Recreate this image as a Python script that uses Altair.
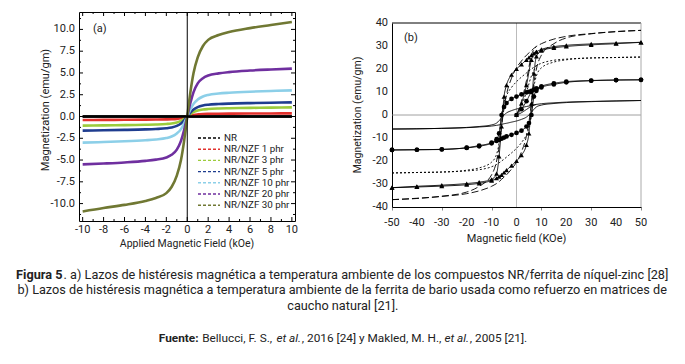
import altair as alt
import pandas as pd

FONT = "Roboto"
TXT = "#222222"

# ---------------- panel (a) data ----------------
a_field = [-10, -8, -6, -4, -3, -2, -1.5, -1, -0.6, -0.3, 0, 0.3, 0.6, 1, 1.5, 2, 3, 4, 6, 8, 10]
a_names = ["NR", "NR/NZF 1 phr", "NR/NZF 3 phr", "NR/NZF 5 phr",
           "NR/NZF 10 phr", "NR/NZF 20 phr", "NR/NZF 30 phr"]
a_colors = ["#000000", "#e2312d", "#9ccc3c", "#1f3d8f", "#8ccfe8", "#6f2f9f", "#707833"]
a_nr = [0, 0, 0, 0, 0, 0, 0, 0, 0, 0, 0, 0, 0, 0, 0, 0, 0, 0, 0, 0, 0]
a_1 = [-0.40, -0.39, -0.38, -0.36, -0.35, -0.33, -0.31, -0.27, -0.20, -0.11, 0,
       0.10, 0.18, 0.24, 0.28, 0.30, 0.32, 0.33, 0.34, 0.35, 0.36]
a_3 = [-1.05, -1.02, -0.99, -0.95, -0.92, -0.86, -0.80, -0.68, -0.50, -0.28, 0,
       0.28, 0.50, 0.68, 0.80, 0.86, 0.92, 0.95, 0.99, 1.02, 1.05]
a_5 = [-1.62, -1.58, -1.54, -1.48, -1.43, -1.35, -1.26, -1.08, -0.80, -0.45, 0,
       0.45, 0.80, 1.08, 1.26, 1.35, 1.43, 1.48, 1.54, 1.58, 1.62]
a_10 = [-3.00, -2.93, -2.85, -2.73, -2.64, -2.48, -2.30, -1.95, -1.45, -0.80, 0,
        0.80, 1.45, 1.95, 2.30, 2.48, 2.64, 2.73, 2.85, 2.93, 3.00]
a_20 = [-5.50, -5.40, -5.28, -5.10, -4.95, -4.70, -4.40, -3.80, -2.80, -1.55, 0,
        1.55, 2.80, 3.80, 4.40, 4.70, 4.95, 5.10, 5.28, 5.40, 5.50]
a_30 = [-10.90, -10.50, -10.15, -9.70, -9.35, -8.80, -8.10, -6.80, -5.00, -2.80, 0,
        2.80, 5.00, 6.80, 8.10, 8.80, 9.35, 9.70, 10.15, 10.50, 10.85]
a_values = [a_nr, a_1, a_3, a_5, a_10, a_20, a_30]

a_xt_major = [-10, -8, -6, -4, -2, 0, 2, 4, 6, 8, 10]
a_xt_labels = ["-10", "-8", "-6", "-4", "-2", "0", "2", "4", "6", "8", "10"]
a_xt_minor = [-9, -7, -5, -3, -1, 1, 3, 5, 7, 9]
a_yt_major = [-10, -7.5, -5, -2.5, 0, 2.5, 5, 7.5, 10]
a_yt_labels = ["-10.0", "-7.5", "-5.0", "-2.5", "0.0", "2.5", "5.0", "7.5", "10.0"]
a_yt_minor = [-11.25, -8.75, -6.25, -3.75, -1.25, 1.25, 3.75, 6.25, 8.75, 11.25]

# ---------------- panel (b) data ----------------
b_field = [-50, -40, -30, -20, -15, -10, -8, -7, -6, -5, -4, -2, 0, 2, 4, 5, 6, 7, 8, 10, 15, 20, 30, 40, 50]
b_names = ["10 phr", "30 phr", "60 phr", "90 phr", "120 phr"]
b_upper = {
    "10 phr": [-6.1, -6.0, -5.8, -5.4, -5.0, -4.3, -3.5, -2.5, -1.2, 0, 0.9, 1.9, 2.6, 3.2, 3.7, 3.9, 4.2, 4.4, 4.6, 4.9, 5.3, 5.6, 5.9, 6.1, 6.3],
    "30 phr": [-15.2, -15.1, -15.0, -14.2, -13.3, -12.0, -10.5, -8.0, 0, 3.5, 5.2, 7.0, 8.0, 9.0, 9.8, 10.1, 10.5, 11.0, 11.5, 12.5, 13.8, 14.5, 15.0, 15.2, 15.3],
    "60 phr": [-25.2, -25.0, -24.8, -24.0, -23.0, -20.5, -17.0, -12.0, 0, 5.5, 8.5, 12.0, 14.5, 16.5, 18.3, 19.2, 20.0, 20.8, 21.5, 22.5, 23.8, 24.3, 24.8, 25.0, 25.2],
    "90 phr": [-31.6, -31.0, -30.5, -29.8, -29.2, -28.0, -25.5, -18.0, -5.0, 8.0, 13.0, 17.5, 20.0, 22.0, 24.0, 25.0, 26.0, 26.8, 27.5, 28.5, 29.7, 30.3, 30.9, 31.3, 31.6],
    "120 phr": [-36.8, -36.3, -35.3, -33.5, -31.0, -26.0, -20.0, -14.0, -5.0, 3.0, 9.0, 16.0, 20.5, 23.5, 26.0, 27.0, 28.0, 29.0, 29.8, 31.0, 33.0, 34.2, 35.4, 36.2, 36.8],
}
b_lower = {
    "10 phr": [-6.1, -6.0, -5.8, -5.5, -5.2, -4.8, -4.5, -4.3, -4.1, -3.8, -3.6, -3.1, -2.6, -1.9, -0.9, 0, 1.2, 2.5, 3.5, 4.3, 5.0, 5.4, 5.8, 6.1, 6.3],
    "30 phr": [-15.2, -15.1, -14.9, -14.3, -13.6, -12.3, -11.3, -10.8, -10.3, -9.8, -9.3, -8.6, -7.8, -6.8, -5.0, -3.5, 0, 8.0, 10.5, 12.0, 13.3, 14.2, 14.9, 15.2, 15.3],
    "60 phr": [-25.2, -25.0, -24.8, -24.3, -23.8, -22.5, -21.5, -20.8, -20.0, -19.2, -18.3, -16.5, -14.5, -12.0, -8.5, -5.5, 0, 12.0, 17.0, 20.5, 23.0, 24.0, 24.8, 25.0, 25.2],
    "90 phr": [-31.6, -31.3, -30.9, -30.3, -29.7, -28.5, -27.5, -26.8, -26.0, -25.0, -24.0, -22.0, -20.0, -17.5, -13.0, -8.0, 5.0, 18.0, 25.5, 28.0, 29.2, 29.8, 30.5, 31.0, 31.6],
    "120 phr": [-36.8, -36.2, -35.4, -34.2, -33.0, -31.0, -29.8, -29.0, -28.0, -27.0, -26.0, -23.5, -20.5, -16.0, -9.0, -3.0, 5.0, 14.0, 20.0, 26.0, 31.0, 33.5, 35.3, 36.3, 36.8],
}
# initial (virgin) magnetisation curves starting at the origin
b_init_field = [0, 2, 4, 6, 8]
b_init = {
    "10 phr": [0, 1.0, 2.4, 3.8, 4.6],
    "30 phr": [0, 2.5, 6.0, 10.0, 11.5],
    "60 phr": [0, 4.0, 10.0, 17.0, 21.5],
    "90 phr": [0, 5.0, 13.0, 24.0, 27.5],
    "120 phr": [0, 6.0, 15.0, 26.0, 29.8],
}
b_dash = [[1, 0], [1, 0], [2, 2], [1, 0], [7, 3]]
b_xticks = [-50, -40, -30, -20, -10, 0, 10, 20, 30, 40, 50]
b_xt_labels = ["-50", "-40", "-30", "-20", "-10", "0", "10", "20", "30", "40", "50"]
b_yticks = [-40, -30, -20, -10, 0, 10, 20, 30, 40]
b_yt_labels = ["-40", "-30", "-20", "-10", "0", "10", "20", "30", "40"]
b_symbols = [
    "M-1,0H3.25",
    "M1.775,0A0.65,0.65,0,1,1,0.475,0A0.65,0.65,0,1,1,1.775,0Z",
    "M-0.875,0H-0.125M0.75,0H1.5M2.375,0H3.125",
    "M1.125,-0.8L1.875,0.55L0.375,0.55Z",
    "M-1,0H0.75M1.5,0H3.25",
]

# ---------------- caption ----------------
cap_line1 = [("Figura 5", "bold"),
             (". a) Lazos de histéresis magnética a temperatura ambiente de los compuestos NR/ferrita de níquel-zinc [28]", "normal")]
cap_line2 = [("b) Lazos de histéresis magnética a temperatura ambiente de la ferrita de bario usada como refuerzo en matrices de", "normal")]
cap_line3 = [("caucho natural [21].", "normal")]
cap_line4 = [("Fuente:", "bold"), (" Bellucci, F. S., ", "normal"), ("et al.", "italic"),
             (", 2016 [24] y Makled, M. H., ", "normal"), ("et al.", "italic"), (", 2005 [21].", "normal")]

# ---------------- geometry (page px) ----------------
A_X0, A_Y0 = 78, 11          # plot origin of panel (a)
W_A, H_A = 216, 209
B_X0 = 391
W_B = 249
B_TOP, B_BOT = 11, 195       # panel (b) plot rows inside its cell
PAD_L, PAD_T = 4, 3
CAP_CX = 342 - A_X0
CAP_Y = [274 - A_Y0, 289 - A_Y0, 305 - A_Y0, 337 - A_Y0]
CAP_SCALE = [1.0, 1.0, 1.0, 0.93]

hidden_axis = dict(labels=False, ticks=False, domain=False, grid=False, title="")

# ================= helpers =================
one = pd.DataFrame({"k": [0]})


def label(text, x, y, size=11, align="left", weight=None, style=None, opacity=None, angle=None):
    kw = dict(align=align, baseline="middle", font=FONT, fontSize=size, color=TXT)
    if weight:
        kw["fontWeight"] = weight
    if style:
        kw["fontStyle"] = style
    if opacity is not None:
        kw["opacity"] = opacity
    if angle is not None:
        kw["angle"] = angle
    return alt.Chart(pd.DataFrame({"t": [text]})).mark_text(**kw).encode(
        text="t:N", x=alt.value(x), y=alt.value(y))


def xlabels(vals, labs, y):
    d = pd.DataFrame({"H": vals, "lab": labs})
    return alt.Chart(d).mark_text(align="center", baseline="middle", font=FONT, fontSize=11,
                                  color=TXT).encode(x="H:Q", y=alt.value(y), text="lab:N")


def ylabels(vals, labs, x):
    d = pd.DataFrame({"M": vals, "lab": labs})
    return alt.Chart(d).mark_text(align="right", baseline="middle", font=FONT, fontSize=11,
                                  color=TXT).encode(y="M:Q", x=alt.value(x), text="lab:N")


# ================= panel (a) =================
df_a = pd.DataFrame([dict(H=h, M=m, sample=n)
                     for n, vals in zip(a_names, a_values)
                     for h, m in zip(a_field, vals)])

xa = alt.X("H:Q", scale=alt.Scale(domain=[-10.35, 10.3], nice=False, zero=False),
           axis=alt.Axis(**hidden_axis))
ya = alt.Y("M:Q", scale=alt.Scale(domain=[-12, 12], nice=False, zero=False),
           axis=alt.Axis(**hidden_axis))

lines_a = alt.Chart(df_a).mark_line(strokeWidth=2.6, interpolate="monotone").encode(
    x=xa, y=ya,
    color=alt.Color("sample:N", scale=alt.Scale(domain=a_names, range=a_colors),
                    legend=alt.Legend(title=None, orient="none", legendX=118, legendY=121,
                                      symbolType="M-1,0H4.5", symbolSize=64, symbolStrokeWidth=1.4,
                                      symbolDash=[3, 2], labelFont=FONT, labelFontSize=9.8,
                                      labelColor=TXT, labelOffset=17, rowPadding=1.2)),
)

vline_a = alt.Chart(one).mark_rule(color="black", strokeWidth=1).encode(x=alt.datum(0))
nr_a = alt.Chart(df_a[df_a["sample"] == "NR"]).mark_line(color="black", strokeWidth=2.6).encode(
    x="H:Q", y="M:Q")


def xticks(vals, length):
    d = pd.DataFrame({"H": vals})
    bot = alt.Chart(d).mark_rule(color="black", strokeWidth=1).encode(
        x="H:Q", y=alt.value(H_A), y2=alt.value(H_A - length))
    top = alt.Chart(d).mark_rule(color="black", strokeWidth=1).encode(
        x="H:Q", y=alt.value(0), y2=alt.value(length))
    return [bot, top]


def yticks(vals, length):
    d = pd.DataFrame({"M": vals})
    lef = alt.Chart(d).mark_rule(color="black", strokeWidth=1).encode(
        y="M:Q", x=alt.value(0), x2=alt.value(length))
    rig = alt.Chart(d).mark_rule(color="black", strokeWidth=1).encode(
        y="M:Q", x=alt.value(W_A), x2=alt.value(W_A - length))
    return [lef, rig]


# caption (placed relative to panel (a) plot origin; flush layout ignores it)
CW = {' ': .248, 'a': .543, 'b': .560, 'c': .523, 'd': .564, 'e': .530, 'f': .347, 'g': .561, 'h': .551,
      'i': .243, 'j': .239, 'k': .507, 'l': .243, 'm': .876, 'n': .552, 'o': .570, 'p': .561, 'q': .568,
      'r': .338, 's': .516, 't': .327, 'u': .551, 'v': .484, 'w': .751, 'x': .496, 'y': .473, 'z': .496,
      'é': .530, 'í': .243, 'B': .622, 'F': .553, 'H': .713, 'M': .873, 'N': .713, 'R': .616, 'S': .593,
      'Z': .599, '.': .263, ',': .196, ':': .242, '[': .265, ']': .265, '(': .342, ')': .348,
      '/': .412, '-': .276}


def em(s, style):
    w = sum(CW.get(c, .561) for c in s)
    return w * (1.04 if style == "bold" else 1.0)


FS = 652 / em("".join(s for s, _ in cap_line1), "normal")
cap_layers = []
for segs, y, k in zip([cap_line1, cap_line2, cap_line3, cap_line4], CAP_Y, CAP_SCALE):
    fs = FS * k
    total = sum(em(s, st) for s, st in segs) * fs
    x = CAP_CX - total / 2
    for s, st in segs:
        lead = len(s) - len(s.lstrip(" "))
        cap_layers.append(label(s.strip(" "), x + em(" " * lead, st) * fs, y, size=fs,
                                weight="bold" if st == "bold" else None,
                                style="italic" if st == "italic" else None))
        x += em(s, st) * fs

ghost_a = label(".", 12 - A_X0, 100, size=8, opacity=0)

panel_a = alt.layer(
    lines_a, nr_a, vline_a,
    *xticks(a_xt_major, 4), *xticks(a_xt_minor, 2),
    *yticks(a_yt_major, 4), *yticks(a_yt_minor, 2),
    xlabels(a_xt_major, a_xt_labels, H_A + 9),
    ylabels(a_yt_major, a_yt_labels, -4),
    label("Applied Magnetic Field (kOe)", W_A / 2, H_A + 23, size=10.5, align="center"),
    label("Magnetization (emu/gm)", -33, 98, size=11, align="center", angle=270),
    label("(a)", 14, 17), ghost_a, *cap_layers,
).properties(width=W_A, height=H_A, view={"stroke": "black", "strokeWidth": 1})

# ================= panel (b) =================
rows_b = []
for n in b_names:
    for br, src in (("upper", b_upper), ("lower", b_lower)):
        for h, m in zip(b_field, src[n]):
            rows_b.append(dict(H=h, M=m, series=n, branch=br))
    for h, m in zip(b_init_field, b_init[n]):
        rows_b.append(dict(H=h, M=m, series=n, branch="initial"))
df_b = pd.DataFrame(rows_b)

xb = alt.X("H:Q", scale=alt.Scale(domain=[-50, 50], nice=False, zero=False),
           axis=alt.Axis(values=b_xticks, labels=False, title="", tickSize=3, tickColor="#888",
                         domainColor="black", grid=False))
yb = alt.Y("M:Q", scale=alt.Scale(domain=[-40, 40], range=[B_BOT, B_TOP], nice=False, zero=False),
           axis=alt.Axis(labels=False, title="", ticks=False, domainColor="black", grid=False))

zero_v = alt.Chart(one).mark_rule(color="#aaaaaa", strokeWidth=0.8).encode(
    x=alt.datum(0), y=alt.value(B_TOP), y2=alt.value(B_BOT))
zero_h = alt.Chart(one).mark_rule(color="#888888", strokeWidth=0.8).encode(y=alt.datum(0))
top_b = alt.Chart(one).mark_rule(color="black", strokeWidth=1).encode(
    x=alt.value(0), x2=alt.value(W_B), y=alt.value(B_TOP))
right_b = alt.Chart(one).mark_rule(color="#aaaaaa", strokeWidth=1).encode(
    x=alt.value(W_B), y=alt.value(B_TOP), y2=alt.value(B_BOT))

lines_b = alt.Chart(df_b).mark_line(color="black", strokeWidth=0.9, interpolate="monotone").encode(
    x=xb, y=yb,
    detail=["series:N", "branch:N"],
    strokeDash=alt.StrokeDash("series:N", scale=alt.Scale(domain=b_names, range=b_dash), legend=None),
    order=alt.Order("H:Q"),
)
pts30 = alt.Chart(df_b[df_b["series"] == "30 phr"]).mark_point(
    shape="circle", filled=True, color="black", size=22, opacity=1).encode(x="H:Q", y="M:Q")
pts90 = alt.Chart(df_b[df_b["series"] == "90 phr"]).mark_point(
    shape="triangle-up", filled=True, color="black", size=24, opacity=1).encode(x="H:Q", y="M:Q")

df_leg = pd.DataFrame({"series": b_names, "H": [999] * 5, "M": [999] * 5})
leg_b = alt.Chart(df_leg).mark_point(clip=True, filled=True, fill="black", stroke="black",
                                     strokeWidth=1.2, size=64).encode(
    x="H:Q", y="M:Q",
    shape=alt.Shape("series:N", scale=alt.Scale(domain=b_names, range=b_symbols),
                    legend=alt.Legend(title=None, orient="none", legendX=164, legendY=B_TOP + 105,
                                      symbolSize=64, symbolStrokeWidth=1.2, symbolStrokeColor="black",
                                      symbolFillColor="black", symbolOpacity=1, labelFont=FONT,
                                      labelFontSize=11, labelColor=TXT, labelOffset=19, rowPadding=3)),
)

panel_b = alt.layer(
    zero_v, zero_h, top_b, right_b, lines_b, pts30, pts90, leg_b,
    xlabels(b_xticks, b_xt_labels, B_BOT + 16),
    ylabels(b_yticks, b_yt_labels, -4),
    label("Magnetic field (KOe)", W_B / 2, B_BOT + 32, size=11, align="center"),
    label("Magnetization (emu/gm)", -34, (B_TOP + B_BOT) / 2, size=10.5, align="center", angle=270),
    label("(b)", 12, B_TOP + 15),
).properties(width=W_B, height=B_BOT, view={"stroke": "transparent"})

chart = alt.hconcat(panel_a, panel_b, spacing=B_X0 - A_X0 - W_A, bounds="flush").properties(
    padding={"left": PAD_L, "top": PAD_T, "right": 0, "bottom": 0}).configure(font=FONT)

chart.save("out.html", embed_options={"renderer": "svg", "actions": False})
